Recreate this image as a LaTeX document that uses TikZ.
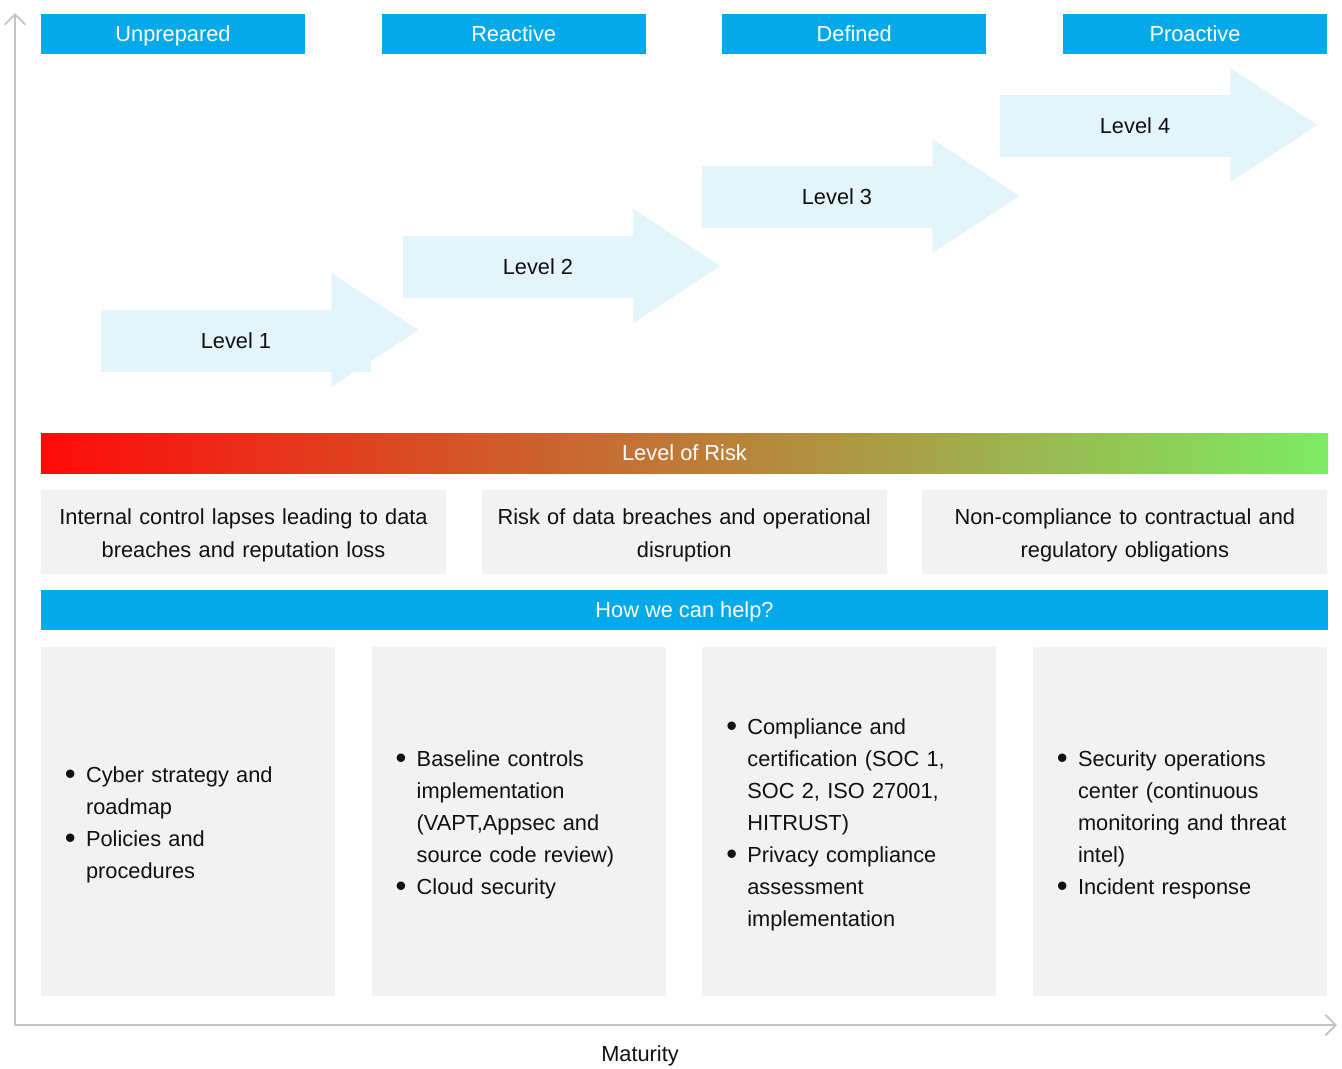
\documentclass[tikz,border=0pt]{standalone}
\usepackage{fontspec}
\setmainfont{Liberation Sans}
\usepackage{tikz}
\usetikzlibrary{arrows.meta,calc,positioning}
\usepackage{xcolor}
\definecolor{stage}{HTML}{03A9E8}
\definecolor{stepfill}{HTML}{E3F4FA}
\definecolor{panel}{HTML}{F2F2F2}
\definecolor{axisgray}{HTML}{C4C4C4}
\definecolor{riskhigh}{HTML}{FF0A0A}
\definecolor{riskmid}{HTML}{C2702F}
\definecolor{risklow}{HTML}{7DEB66}
\definecolor{ink}{HTML}{111111}
\newcommand{\topstrut}{\rule{0pt}{16pt}}
\newcommand{\bul}{\topstrut\makebox[15pt][l]{\raisebox{-1.3pt}{\fontsize{22}{0}\selectfont\textbullet}}}
\newcommand{\cont}{\hspace*{15pt}}
\tikzset{
  >={Straight Barb[length=2.6mm,width=5.2mm]},
  txt/.style={font=\fontsize{15.5}{22.8}\selectfont,text=ink},
  banner/.style={txt,text=white,minimum height=1cm,inner sep=0pt,
                 text height=14pt,text depth=3.5pt},
  stagebox/.style={banner,fill=stage,minimum width=6.6cm},
  levelbody/.style={txt,fill=stepfill,minimum width=6.75cm,minimum height=1.55cm,
                    inner sep=0pt},
  riskbox/.style={txt,fill=panel,minimum width=10.125cm,minimum height=2.1cm,
                  text width=9.8cm,align=center,inner sep=0pt},
  helpbox/.style={txt,fill=panel,text width=6.15cm,inner xsep=0.6cm,inner ysep=0pt,
                  minimum height=8.725cm,align=left},
  axis/.style={<->,draw=axisgray,line width=1.3pt}
}
\begin{document}
\begin{tikzpicture}[x=0.025cm,y=-0.025cm]
  \useasboundingbox (0,0) rectangle (1342,1068);
  % maturity stages
  \node[stagebox] (unprepared) at (173,34) {Unprepared};
  \node[stagebox,right=1.9cm of unprepared] (reactive) {Reactive};
  \node[stagebox,right=1.9cm of reactive] (defined) {Defined};
  \node[stagebox,right=1.9cm of defined] (proactive) {Proactive};

  % level steps
  \node[levelbody] (lvlone) at (236,341) {Level 1};
  \node[levelbody] (lvltwo) at (538,267) {Level 2};
  \node[levelbody] (lvlthree) at (837,197) {Level 3};
  \node[levelbody] (lvlfour) at (1135,126) {Level 4};
  \foreach \lvl/\dy in {lvlone/-11,lvltwo/-1,lvlthree/-1,lvlfour/-1}
    \fill[stepfill] ($(\lvl.east)+(-40,\dy-57)$) -- ($(\lvl.east)+(47,\dy)$)
      -- ($(\lvl.east)+(-40,\dy+57)$) -- cycle;

  % risk
  \node[banner,minimum width=32.175cm,left color=riskhigh,middle color=riskmid,
        right color=risklow] (riskbar) at (684.5,453) {Level of Risk};
  \node[riskbox] (riskone) at (243.5,532)
    {\topstrut Internal control lapses leading to data\\breaches and reputation loss};
  \node[riskbox,right=0.875cm of riskone] (risktwo)
    {\topstrut Risk of data breaches and operational\\disruption};
  \node[riskbox,right=0.875cm of risktwo] (riskthree)
    {\topstrut Non-compliance to contractual and\\regulatory obligations};

  % help
  \node[banner,fill=stage,minimum width=32.175cm] (helpbar) at (684.5,610)
    {How we can help?};
  \node[helpbox] (helpone) at (188,821.5)
    {\bul Cyber strategy and\\\cont roadmap\\\bul Policies and\\\cont procedures};
  \node[helpbox,right=0.9cm of helpone] (helptwo)
    {\bul Baseline controls\\\cont implementation\\\cont (VAPT,Appsec and\\
     \cont source code review)\\\bul Cloud security};
  \node[helpbox,right=0.9cm of helptwo] (helpthree)
    {\bul Compliance and\\\cont certification (SOC 1,\\\cont SOC 2, ISO 27001,\\
     \cont HITRUST)\\\bul Privacy compliance\\\cont assessment\\\cont implementation};
  \node[helpbox,right=0.9cm of helpthree] (helpfour)
    {\bul Security operations\\\cont center (continuous\\\cont monitoring and threat\\
     \cont intel)\\\bul Incident response};

  % axes
  \coordinate (origin) at (15,1025);
  \coordinate (ytip) at (15,13);
  \coordinate (xtip) at (1337,1025);
  \draw[axis] (ytip) -- (origin) -- (xtip);
  \node[txt] (maturity) at (640,1056) {Maturity};
\end{tikzpicture}
\end{document}
